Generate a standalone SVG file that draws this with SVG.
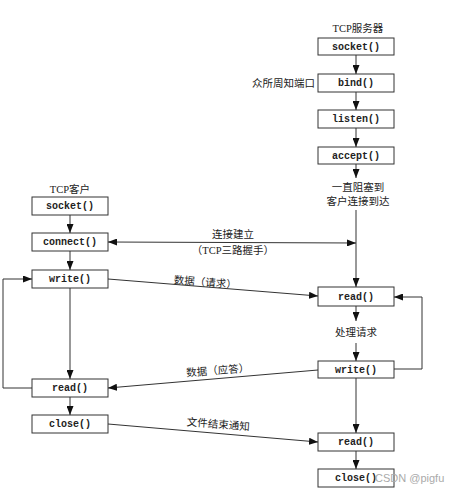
<svg xmlns="http://www.w3.org/2000/svg" width="451" height="496" viewBox="0 0 451 496">
<defs>
<marker id="ah" viewBox="0 0 9 7" markerWidth="9" markerHeight="7" refX="9" refY="3.5" orient="auto-start-reverse" markerUnits="userSpaceOnUse">
<path d="M0,0 L9,3.5 L0,7 z" fill="#111"/>
</marker>
<style>
.box{fill:#fff;stroke:#333;stroke-width:1}
.fn{font-family:"Liberation Mono",monospace;font-size:10px;font-weight:bold;fill:#222;text-anchor:middle}
.lb{font-family:"Liberation Serif","Noto Sans CJK SC",serif;font-size:10.5px;fill:#222}
.c{text-anchor:middle}
.ln{fill:none;stroke:#333;stroke-width:1}
.ar{marker-end:url(#ah)}
</style>
</defs>
<rect width="451" height="496" fill="#fff"/>
<g id="labels">
<text class="lb c" x="358" y="32">TCP服务器</text>
<text class="lb" x="315" y="87" text-anchor="end">众所周知端口</text>
<text class="lb c" x="358" y="191">一直阻塞到</text>
<text class="lb c" x="358" y="205">客户连接到达</text>
<text class="lb c" x="70" y="193">TCP客户</text>
<text class="lb c" x="356" y="336">处理请求</text>
<text class="lb c" x="233" y="238">连接建立</text>
<text class="lb c" x="233" y="254">（TCP三路握手）</text>
<text class="lb c" x="205" y="286" transform="rotate(4.5 205 286)">数据（请求）</text>
<text class="lb c" x="218" y="374" transform="rotate(-4.5 218 374)">数据（应答）</text>
<text class="lb c" x="218" y="428" transform="rotate(4.5 218 428)">文件结束通知</text>
</g>
<g id="s_socket"><rect class="box" x="318" y="38" width="76" height="17"/><text class="fn" x="356" y="50">socket()</text></g>
<g id="s_bind"><rect class="box" x="318" y="74" width="76" height="18"/><text class="fn" x="356" y="86">bind()</text></g>
<g id="s_listen"><rect class="box" x="318" y="110" width="76" height="18"/><text class="fn" x="356" y="122">listen()</text></g>
<g id="s_accept"><rect class="box" x="318" y="147" width="76" height="17"/><text class="fn" x="356" y="159">accept()</text></g>
<g id="s_read"><rect class="box" x="318" y="287" width="76" height="19"/><text class="fn" x="356" y="300">read()</text></g>
<g id="s_write"><rect class="box" x="318" y="361" width="76" height="17"/><text class="fn" x="356" y="373">write()</text></g>
<g id="s_read2"><rect class="box" x="318" y="433" width="76" height="18"/><text class="fn" x="356" y="445">read()</text></g>
<g id="s_close"><rect class="box" x="318" y="469" width="76" height="18"/><text class="fn" x="356" y="481">close()</text></g>
<g id="c_socket"><rect class="box" x="32" y="197" width="76" height="18"/><text class="fn" x="70" y="209">socket()</text></g>
<g id="c_connect"><rect class="box" x="32" y="233" width="76" height="18"/><text class="fn" x="70" y="245">connect()</text></g>
<g id="c_write"><rect class="box" x="32" y="270" width="76" height="18"/><text class="fn" x="70" y="282">write()</text></g>
<g id="c_read"><rect class="box" x="32" y="379" width="76" height="18"/><text class="fn" x="70" y="391">read()</text></g>
<g id="c_close"><rect class="box" x="32" y="415" width="76" height="18"/><text class="fn" x="70" y="427">close()</text></g>
<g id="connectors">
<line class="ln ar" x1="356" y1="55" x2="356" y2="74"/>
<line class="ln ar" x1="356" y1="92" x2="356" y2="110"/>
<line class="ln ar" x1="356" y1="128" x2="356" y2="147"/>
<line class="ln ar" x1="356" y1="164" x2="356" y2="178"/>
<line class="ln ar" x1="356" y1="210" x2="356" y2="287"/>
<line class="ln ar" x1="356" y1="306" x2="356" y2="321"/>
<line class="ln ar" x1="356" y1="343" x2="356" y2="361"/>
<line class="ln ar" x1="356" y1="378" x2="356" y2="433"/>
<line class="ln ar" x1="356" y1="451" x2="356" y2="469"/>
<polyline class="ln ar" points="394,369 422,369 422,297 394,297"/>
<line class="ln ar" x1="70" y1="215" x2="70" y2="233"/>
<line class="ln ar" x1="70" y1="251" x2="70" y2="270"/>
<line class="ln ar" x1="70" y1="288" x2="70" y2="379"/>
<line class="ln ar" x1="70" y1="397" x2="70" y2="415"/>
<polyline class="ln ar" points="32,388 3,388 3,279 32,279"/>
<line class="ln ar" x1="108" y1="242" x2="356" y2="243" marker-start="url(#ah)"/>
<line class="ln ar" x1="108" y1="279" x2="318" y2="296"/>
<line class="ln ar" x1="318" y1="370" x2="108" y2="388"/>
<line class="ln ar" x1="108" y1="424" x2="318" y2="442"/>
</g>
<text x="375" y="482" font-family="Liberation Sans,sans-serif" font-size="11" fill="#aaa">CSDN @pigfu</text>
</svg>
